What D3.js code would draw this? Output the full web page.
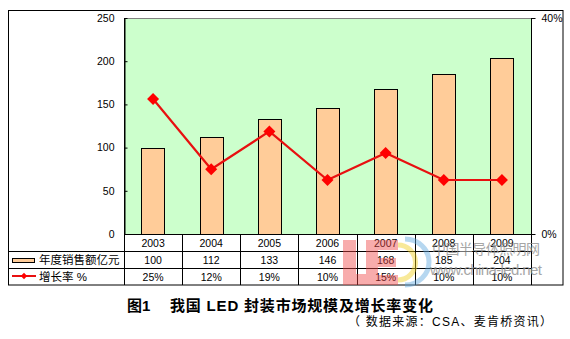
<!DOCTYPE html>
<html><head><meta charset="utf-8">
<script src="https://cdn.jsdelivr.net/npm/d3@7"></script>
<style>
html,body{margin:0;padding:0;background:#fff;}
svg{display:block;}
text{font-family:Arial,"Liberation Sans","Noto Sans CJK SC",sans-serif;}
</style></head>
<body>
<svg id="c" width="570" height="339"></svg>
<script>
const years = ["2003","2004","2005","2006","2007","2008","2009"];
const sales = [100,112,133,146,168,185,204];
const growth = [25,12,19,10,15,10,10];
const growthLabels = ["25%","12%","19%","10%","15%","10%","10%"];
const leftTicks = [0,50,100,150,200,250];
const rightTicks = [0,40];
const seriesNames = ["年度销售额亿元","增长率 %"];
const title1 = "图1";
const title2 = "我国 LED 封装市场规模及增长率变化";
const source = "（ 数据来源：CSA、麦肯桥资讯）";

const svg = d3.select("#c");
const L=124, R=531, T=18, B=234;
const rowH=17;

const x = d3.scaleBand().domain(years).range([L,R]).paddingInner(0.6).paddingOuter(0.3);
const y = d3.scaleLinear().domain([0,250]).range([B,T]);
const y2 = d3.scaleLinear().domain([0,40]).range([B,T]);
const step = (R-L)/years.length;

// outer border
svg.append("rect").attr("x",8.5).attr("y",10.5).attr("width",554.5).attr("height",274.5)
  .attr("fill","#fff").attr("stroke","#000");

// plot background
svg.append("rect").attr("x",L).attr("y",T).attr("width",R-L).attr("height",B-T)
  .attr("fill","#CCFFCC");
svg.append("line").attr("x1",L).attr("x2",R).attr("y1",T+0.5).attr("y2",T+0.5).attr("stroke","#808080");

// bars
svg.append("g").selectAll("rect").data(sales).join("rect")
  .attr("x",(d,i)=>Math.round(x(years[i]))+0.5)
  .attr("y",d=>Math.round(y(d))+0.5)
  .attr("width",Math.round(x.bandwidth()))
  .attr("height",d=>B-Math.round(y(d)))
  .attr("fill","#FFCC99").attr("stroke","#000").attr("stroke-width",1);

// line
const cx = i => x(years[i]) + x.bandwidth()/2;
const line = d3.line().x((d,i)=>cx(i)).y(d=>y2(d));
svg.append("path").datum(growth).attr("d",line).attr("fill","none")
  .attr("stroke","#E81010").attr("stroke-width",2.2);
svg.append("g").selectAll("path").data(growth).join("path")
  .attr("d",d3.symbol().type(d3.symbolSquare).size(72))
  .attr("transform",(d,i)=>`translate(${cx(i)},${y2(d)}) rotate(45)`)
  .attr("fill","#FF0000");

// left axis
const ga = svg.append("g").attr("transform",`translate(${L+0.5},0)`)
  .call(d3.axisLeft(y).tickValues(leftTicks).tickSizeInner(-3).tickSizeOuter(0).tickPadding(10));
ga.select(".domain").attr("stroke","#000");
ga.selectAll("text").attr("font-size","10.5px").attr("fill","#000");

// right axis
const gr = svg.append("g").attr("transform",`translate(${R+0.5},0)`)
  .call(d3.axisRight(y2).tickValues(rightTicks).tickFormat(d=>d+"%").tickSizeInner(4).tickSizeOuter(0).tickPadding(6));
gr.select(".domain").attr("stroke","#000").attr("d",`M0,${T}V285`);
gr.selectAll("text").attr("font-size","10.5px").attr("fill","#000");

// table lines
const tl = svg.append("g").attr("stroke","#000").attr("stroke-width",1);
tl.append("line").attr("x1",L).attr("x2",R).attr("y1",B+0.5).attr("y2",B+0.5);
tl.append("line").attr("x1",8).attr("x2",R).attr("y1",B+rowH+0.5).attr("y2",B+rowH+0.5);
tl.append("line").attr("x1",8).attr("x2",R).attr("y1",B+2*rowH+0.5).attr("y2",B+2*rowH+0.5);
d3.range(years.length+1).forEach(i=>{
  const xx = Math.round(L+i*step)+0.5;
  tl.append("line").attr("x1",xx).attr("x2",xx).attr("y1",i===0?T:B).attr("y2",285);
});

// table text
const tt = svg.append("g").attr("font-size","10.5px").attr("text-anchor","middle").attr("fill","#000");
years.forEach((yr,i)=>{
  tt.append("text").attr("x",cx(i)).attr("y",B+rowH/2+4).text(yr);
  tt.append("text").attr("x",cx(i)).attr("y",B+rowH*1.5+4).text(sales[i]);
  tt.append("text").attr("x",cx(i)).attr("y",B+rowH*2.5+4).text(growthLabels[i]);
});

// legend keys
svg.append("rect").attr("x",12.5).attr("y",258.5).attr("width",22).attr("height",4)
  .attr("fill","#FFCC99").attr("stroke","#000");
svg.append("line").attr("x1",12).attr("x2",36).attr("y1",276).attr("y2",276).attr("stroke","#E81010").attr("stroke-width",2);
svg.append("path").attr("d",d3.symbol().type(d3.symbolSquare).size(20)).attr("transform","translate(24,276) rotate(45)").attr("fill","#FF0000");
svg.append("text").attr("x",39).attr("y",B+rowH*1.5+4.5).attr("font-size","11.5px").text(seriesNames[0]);
svg.append("text").attr("x",39).attr("y",B+rowH*2.5+4.5).attr("font-size","11.5px").text(seriesNames[1]);

// watermark
const wm = svg.append("g").attr("opacity",0.45);
wm.append("path").attr("fill","#F04848")
  .attr("d","M343,240h13v34h20v11h-33z M366,240h32v10h-20v8h18v9h-18v8h20v10h-32z");
wm.append("path").attr("fill","none").attr("stroke","#F0D020").attr("stroke-width",5)
  .attr("d","M398,245 A17,17 0 0 1 398,280");
wm.append("path").attr("fill","none").attr("stroke","#60A8E0").attr("stroke-width",5)
  .attr("d","M405,239 A24,23 0 0 1 405,285");
svg.append("text").attr("x",432).attr("y",254).attr("font-size","14px").attr("fill","#909090").attr("opacity",0.8)
  .attr("textLength",108).attr("font-family","'Noto Sans CJK SC',sans-serif").text("中国半导体照明网");
svg.append("text").attr("x",430).attr("y",275).attr("font-size","15px").attr("fill","#909090").attr("opacity",0.8)
  .attr("textLength",112).text("www.china-led.net");

// title
svg.append("text").attr("x",127).attr("y",311).attr("font-size","15px").attr("font-weight","bold")
  .attr("font-family","'DejaVu Serif','Noto Sans CJK SC',serif").text(title1);
svg.append("text").attr("x",170).attr("y",311).attr("font-size","15px").attr("font-weight","bold")
  .attr("font-family","'Liberation Serif','Noto Sans CJK SC',serif")
  .attr("textLength",263).attr("lengthAdjust","spacing").text(title2);
svg.append("text").attr("x",348).attr("y",326).attr("font-size","12px")
  .attr("font-family","'Noto Sans CJK SC',sans-serif")
  .attr("textLength",204).attr("lengthAdjust","spacing").text(source);
</script>
</body></html>
